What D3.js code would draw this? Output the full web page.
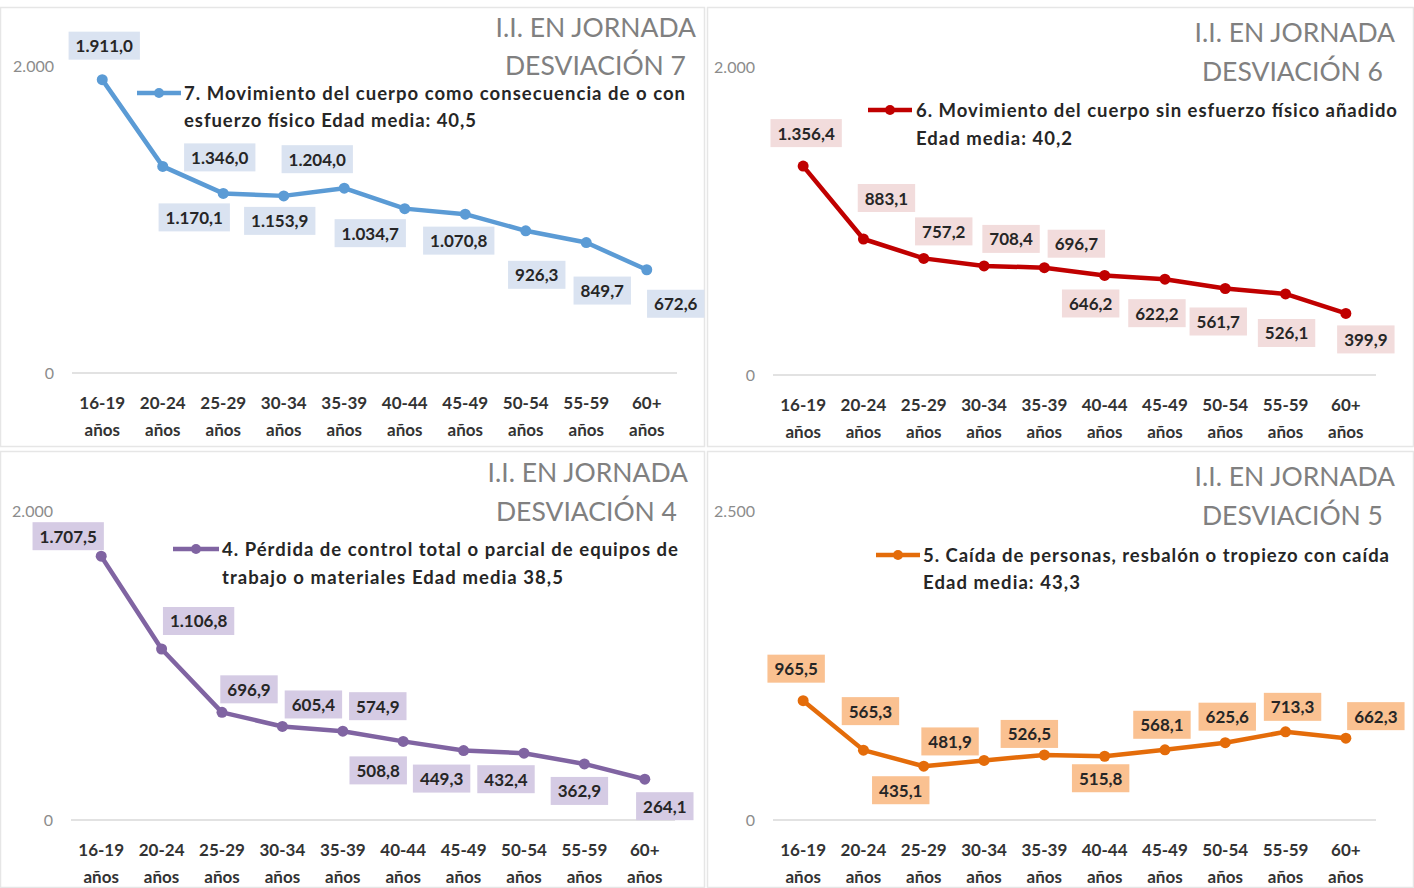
<!DOCTYPE html>
<html>
<head>
<meta charset="utf-8">
<script src="https://cdn.jsdelivr.net/npm/d3@7"></script>
<style>
  html, body { margin: 0; padding: 0; background: #ffffff; }
  svg { display: block; font-family: "Lato", "Open Sans", sans-serif; }
</style>
</head>
<body>
<svg id="chart" width="1414" height="888"></svg>
<script>
// ---------- DATA ----------
const categories = ["16-19", "20-24", "25-29", "30-34", "35-39", "40-44", "45-49", "50-54", "55-59", "60+"];
const categoryUnit = "años";

const values7 = [1911.0, 1346.0, 1170.1, 1153.9, 1204.0, 1070.8, 1034.7, 926.3, 849.7, 672.6];
const values6 = [1356.4, 883.1, 757.2, 708.4, 696.7, 646.2, 622.2, 561.7, 526.1, 399.9];
const values4 = [1707.5, 1106.8, 696.9, 605.4, 574.9, 508.8, 449.3, 432.4, 362.9, 264.1];
const values5 = [965.5, 565.3, 435.1, 481.9, 526.5, 515.8, 568.1, 625.6, 713.3, 662.3];

const yTicks7 = [0, 2000];
const yTicks6 = [0, 2000];
const yTicks4 = [0, 2000];
const yTicks5 = [0, 2500];

const title7 = ["I.I. EN JORNADA", "DESVIACIÓN 7"];
const title6 = ["I.I. EN JORNADA", "DESVIACIÓN 6"];
const title4 = ["I.I. EN JORNADA", "DESVIACIÓN 4"];
const title5 = ["I.I. EN JORNADA", "DESVIACIÓN 5"];

const legend7 = ["7. Movimiento del cuerpo como consecuencia de o con", "esfuerzo físico Edad media: 40,5"];
const legend6 = ["6. Movimiento del cuerpo sin esfuerzo físico añadido", "Edad media: 40,2"];
const legend4 = ["4. Pérdida de control total o parcial de equipos de", "trabajo o materiales Edad media 38,5"];
const legend5 = ["5. Caída de personas, resbalón o tropiezo con caída", "Edad media: 43,3"];

// ---------- LAYOUT / STYLE ----------
// label offsets (px) of each data label relative to its point
const labelOffsets7 = [[2,-34],[57,-9],[-29,24],[-4,25],[-27,-29],[54,32],[-95,19],[11,44],[16,48],[29,34]];
const labelOffsets6 = [[3,-33],[23,-41],[20,-27],[27,-27],[32,-24],[-14,28],[-8,34],[-7,33],[1,39],[20,26]];
const labelOffsets4 = [[-33,-20],[37,-28],[27,-23],[31,-22],[35,-25],[-25,29],[-22,28],[-18,26],[-5,27],[20,27]];
const labelOffsets5 = [[-7,-32],[7,-39],[-23,24],[-34,-19],[-15,-21],[-4,22],[-3,-25],[2,-26],[7,-25],[30,-22]];

const panels = [
  { values: values7, ticks: yTicks7, title: title7, legend: legend7, offsets: labelOffsets7,
    color: "#5b9bd5", fill: "#dae3f1",
    box: [0, 7, 705, 447], x: [72, 677], y: [373, 66],
    titlePos: [[696, 27], [686, 65]], leg: [137, 181, 184, 93, 120], legW: [501, 292] },
  { values: values6, ticks: yTicks6, title: title6, legend: legend6, offsets: labelOffsets6,
    color: "#c00000", fill: "#f2dcdc",
    box: [707, 7, 1414, 447], x: [773, 1376], y: [375, 67],
    titlePos: [[1395, 32], [1383, 71]], leg: [868, 912, 916, 110, 138], legW: [481, 156] },
  { values: values4, ticks: yTicks4, title: title4, legend: legend4, offsets: labelOffsets4,
    color: "#8064a2", fill: "#d5cbe4",
    box: [0, 451, 705, 888], x: [71, 675], y: [820, 511],
    titlePos: [[688, 472], [677, 511]], leg: [173, 219, 222, 549, 577], legW: [456, 341] },
  { values: values5, ticks: yTicks5, title: title5, legend: legend5, offsets: labelOffsets5,
    color: "#e46c0a", fill: "#fac191",
    box: [707, 451, 1414, 888], x: [773, 1376], y: [820, 511],
    titlePos: [[1395, 476], [1383, 515]], leg: [876, 920, 923, 555, 582], legW: [466, 157] }
];

const esLocale = d3.formatLocale({ decimal: ",", thousands: ".", grouping: [3], currency: ["", " €"] });
const fmtValue = esLocale.format(",.1f");
const fmtTick = esLocale.format(",.0f");

const svg = d3.select("#chart");

panels.forEach(p => {
  const g = svg.append("g");

  // panel frame
  g.append("rect")
    .attr("x", p.box[0] + 0.5).attr("y", p.box[1] + 0.5)
    .attr("width", p.box[2] - p.box[0] - 1).attr("height", p.box[3] - p.box[1] - 1)
    .attr("fill", "none").attr("stroke", "#e6e6e6").attr("stroke-width", 1.5);

  const x = d3.scaleBand().domain(categories).range(p.x);
  const y = d3.scaleLinear().domain([0, p.ticks[p.ticks.length - 1]]).range(p.y);
  const cx = c => x(c) + x.bandwidth() / 2;

  // zero gridline
  g.append("line")
    .attr("x1", p.x[0]).attr("x2", p.x[1])
    .attr("y1", y(0)).attr("y2", y(0))
    .attr("stroke", "#d9d9d9").attr("stroke-width", 1.5);

  // y axis labels
  const yAxis = d3.axisLeft(y).tickValues(p.ticks).tickFormat(fmtTick).tickSize(0).tickPadding(18);
  const ya = g.append("g").attr("transform", `translate(${p.x[0]},0)`).call(yAxis);
  ya.select(".domain").remove();
  ya.selectAll("text").attr("font-size", 16).attr("fill", "#8c8c8c")
    .attr("font-family", "Lato, sans-serif");

  // x axis labels (two lines)
  const xAxis = d3.axisBottom(x).tickSize(0).tickPadding(0).tickFormat(() => "");
  const xa = g.append("g").attr("transform", `translate(0,${y(0)})`).call(xAxis);
  xa.select(".domain").remove();
  xa.selectAll(".tick text").remove();
  xa.selectAll(".tick").each(function(d) {
    const t = d3.select(this).append("text")
      .attr("text-anchor", "middle")
      .attr("font-size", 17).attr("font-weight", 700).attr("fill", "#333333")
      .attr("font-family", "Lato, sans-serif");
    t.append("tspan").attr("x", 0).attr("y", 29).attr("dominant-baseline", "central").text(d);
    t.append("tspan").attr("x", 0).attr("y", 56).attr("dominant-baseline", "central").text(categoryUnit);
  });

  // title
  p.title.forEach((line, i) => {
    g.append("text")
      .attr("x", p.titlePos[i][0]).attr("y", p.titlePos[i][1])
      .attr("text-anchor", "end").attr("dominant-baseline", "central")
      .attr("font-size", 26.5).attr("fill", "#808080")
      .text(line);
  });

  // legend
  const [lx1, lx2, tx, ly1, ly2] = p.leg;
  g.append("line").attr("x1", lx1).attr("x2", lx2).attr("y1", ly1).attr("y2", ly1)
    .attr("stroke", p.color).attr("stroke-width", 4.5);
  g.append("circle").attr("cx", (lx1 + lx2) / 2).attr("cy", ly1).attr("r", 5).attr("fill", p.color);
  p.legend.forEach((line, i) => {
    g.append("text")
      .attr("x", tx).attr("y", i === 0 ? ly1 : ly2)
      .attr("dominant-baseline", "central")
      .attr("font-size", 18.5).attr("font-weight", 700).attr("fill", "#262626")
      .attr("textLength", p.legW[i]).attr("lengthAdjust", "spacing")
      .text(line);
  });

  // line
  const data = categories.map((c, i) => ({ c, v: p.values[i], o: p.offsets[i] }));
  const line = d3.line().x(d => cx(d.c)).y(d => y(d.v));
  g.append("path").datum(data)
    .attr("d", line).attr("fill", "none")
    .attr("stroke", p.color).attr("stroke-width", 4.5)
    .attr("stroke-linejoin", "round").attr("stroke-linecap", "round");
  g.selectAll(".pt").data(data).join("circle")
    .attr("cx", d => cx(d.c)).attr("cy", d => y(d.v)).attr("r", 5.5)
    .attr("fill", p.color);

  // data labels
  const lbl = g.selectAll(".lbl").data(data).join("g")
    .attr("transform", d => `translate(${cx(d.c) + d.o[0]},${y(d.v) + d.o[1]})`);
  const rects = lbl.append("rect").attr("fill", p.fill);
  const texts = lbl.append("text")
    .attr("text-anchor", "middle").attr("dominant-baseline", "central")
    .attr("font-size", 17).attr("font-weight", 700).attr("fill", "#262626")
    .text(d => fmtValue(d.v));
  texts.each(function(d, i) {
    const w = this.getComputedTextLength();
    d3.select(rects.nodes()[i])
      .attr("x", -w / 2 - 7).attr("y", -14)
      .attr("width", w + 14).attr("height", 28);
  });
});
</script>
</body>
</html>
